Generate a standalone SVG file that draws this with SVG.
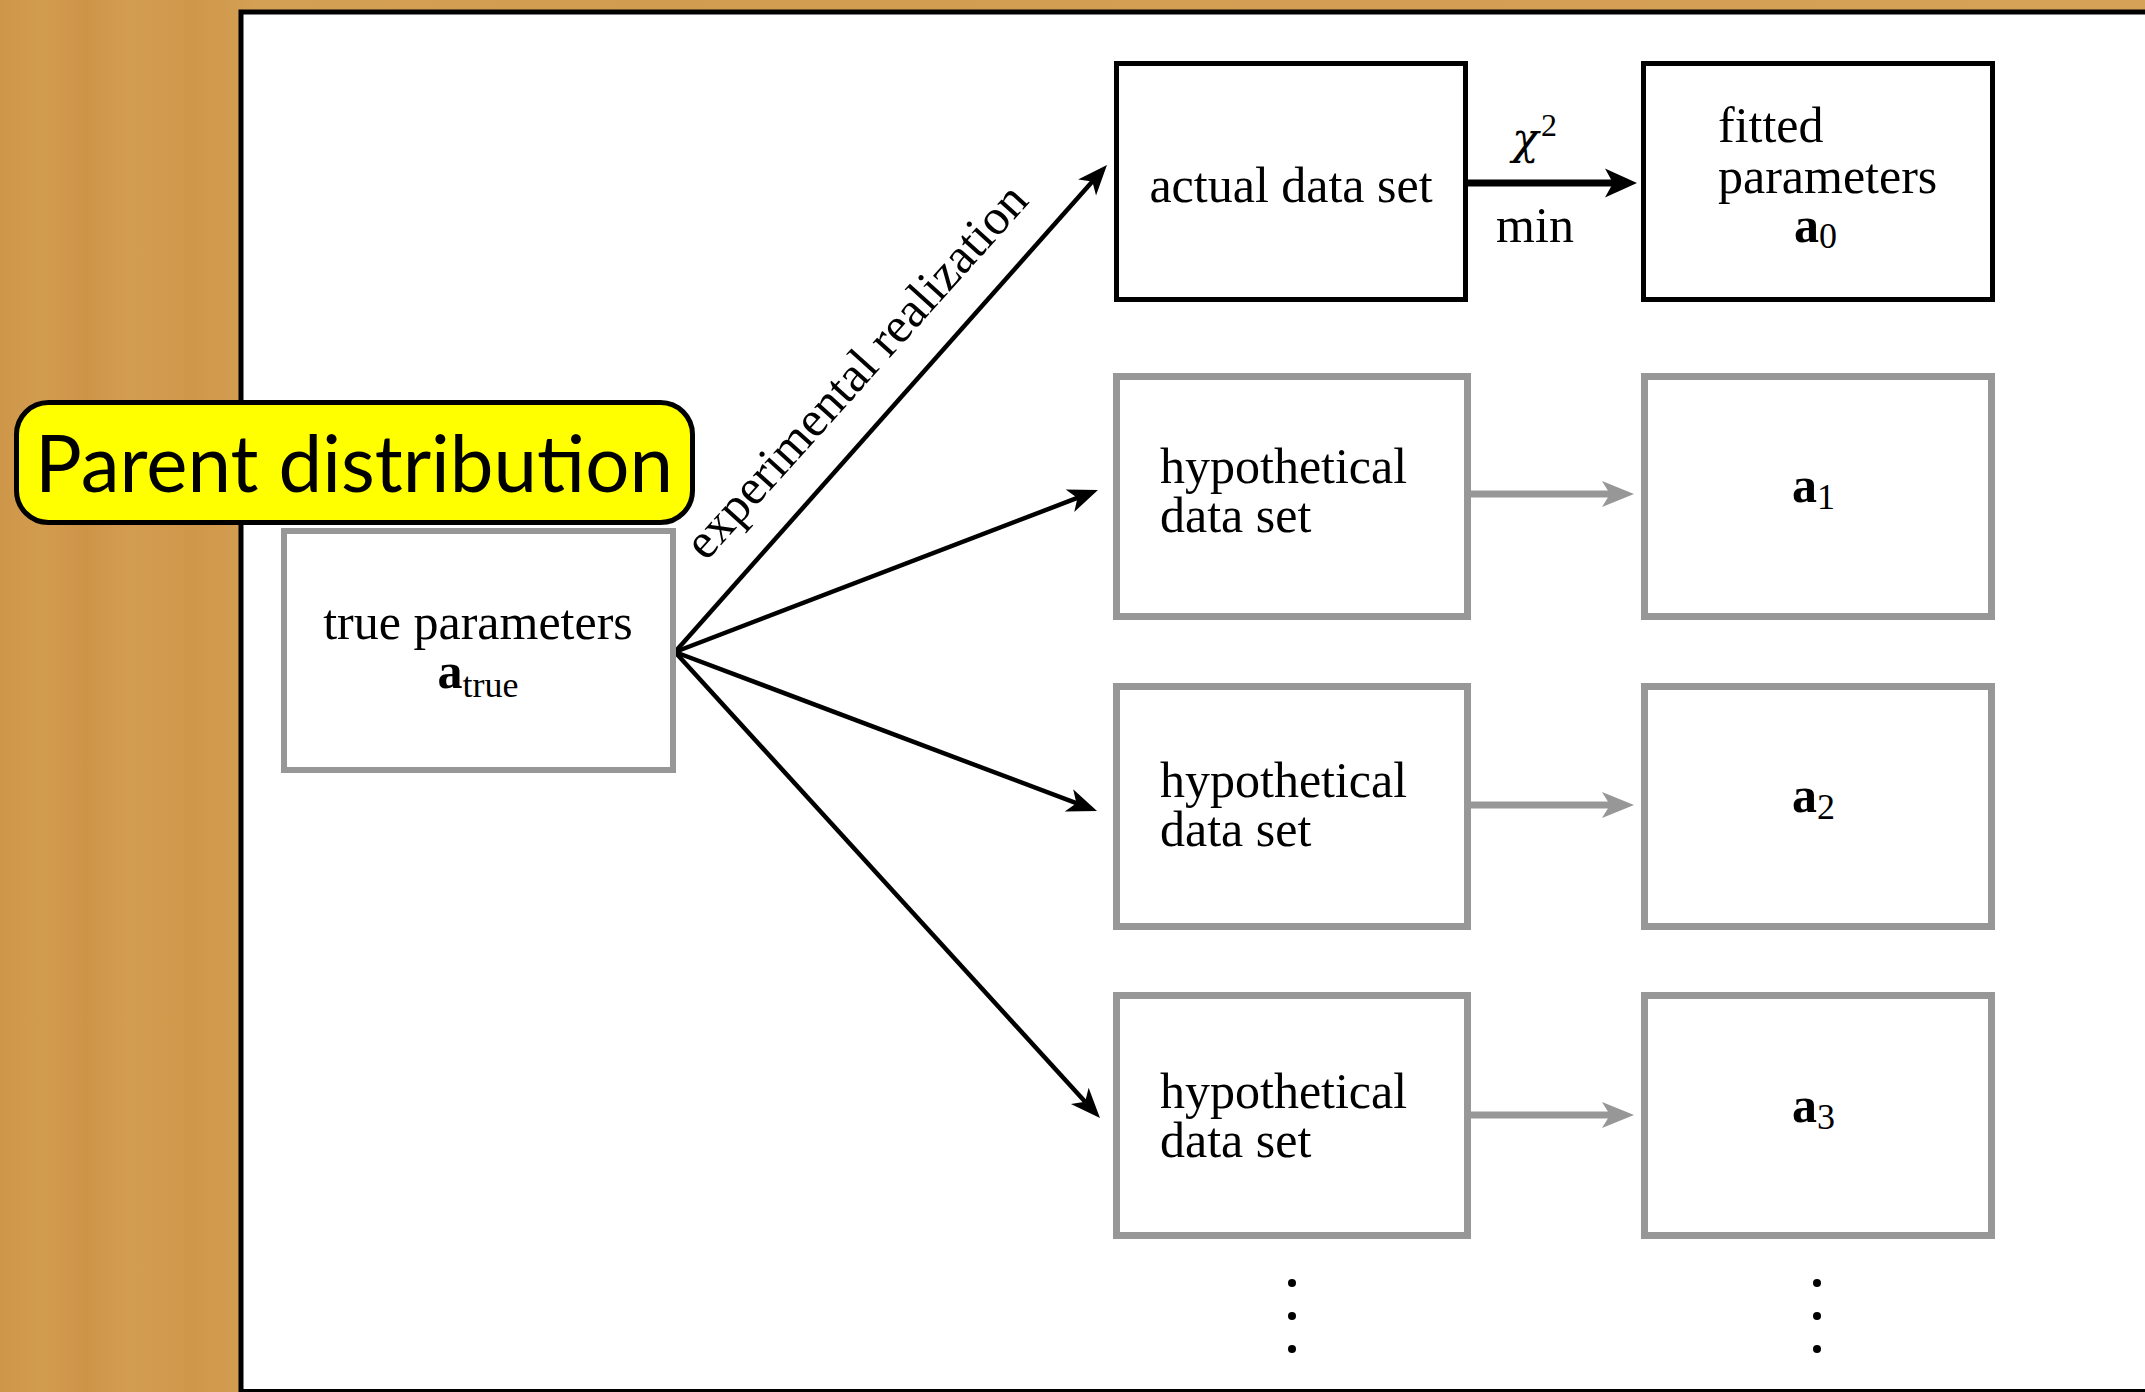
<svg xmlns="http://www.w3.org/2000/svg" width="2145" height="1392" viewBox="0 0 2145 1392">
  <style>
    .t { font-family: "Liberation Serif", "Times New Roman", serif; font-size: 50px; fill: #000; }
    .b { font-weight: bold; }
    .sub { font-size: 36px; font-weight: normal; }
    .sup { font-size: 32px; }
    .chi { font-family: "DejaVu Serif", "Liberation Serif", serif; font-style: italic; font-size: 44px; }
    .box-k { fill: #fff; stroke: #000; stroke-width: 5; }
    .box-g { fill: #fff; stroke: #979797; stroke-width: 7; }
    .fan { stroke: #000; stroke-width: 4.5; fill: none; marker-end: url(#headK); }
    .gar { stroke: #979797; stroke-width: 7; fill: none; marker-end: url(#headG); }
  </style>
  <defs>
    <linearGradient id="wood" x1="0" y1="0" x2="1" y2="0">
      <stop offset="0" stop-color="#CE9649"/>
      <stop offset="0.02" stop-color="#D29C4F"/>
      <stop offset="0.04" stop-color="#CD9448"/>
      <stop offset="0.06" stop-color="#D39D51"/>
      <stop offset="0.09" stop-color="#CF974A"/>
      <stop offset="0.12" stop-color="#D4A054"/>
      <stop offset="0.3" stop-color="#D29C50"/>
      <stop offset="1" stop-color="#D6A257"/>
    </linearGradient>
    <marker id="headK" markerUnits="userSpaceOnUse" orient="auto" markerWidth="60" markerHeight="60" refX="0" refY="0" viewBox="-30 -30 60 60" overflow="visible">
      <path d="M20,0 L-10,-12 L-2,0 L-10,12 Z" fill="#000"/>
    </marker>
    <marker id="headG" markerUnits="userSpaceOnUse" orient="auto" markerWidth="60" markerHeight="60" refX="0" refY="0" viewBox="-30 -30 60 60" overflow="visible">
      <path d="M22,0 L-10,-13 L-2,0 L-10,13 Z" fill="#979797"/>
    </marker>
    <marker id="headKb" markerUnits="userSpaceOnUse" orient="auto" markerWidth="60" markerHeight="60" refX="0" refY="0" viewBox="-30 -30 60 60" overflow="visible">
      <path d="M22,0 L-10,-14.5 L-2,0 L-10,14.5 Z" fill="#000"/>
    </marker>
  </defs>

  <!-- background -->
  <rect x="0" y="0" width="2145" height="1392" fill="url(#wood)"/>
  <rect id="panel" x="241" y="12" width="1910" height="1379.5" fill="#fff" stroke="#000" stroke-width="5"/>

  <!-- connectors -->
  <g id="connectors">
    <line class="fan" x1="675" y1="652" x2="1093.7" y2="180"/>
    <line class="fan" x1="675" y1="652" x2="1079.3" y2="497.2"/>
    <line class="fan" x1="675" y1="652" x2="1078.3" y2="803.9"/>
    <line class="fan" x1="675" y1="652" x2="1086.5" y2="1103.2"/>
    <line x1="1468" y1="183" x2="1615" y2="183" stroke="#000" stroke-width="7" marker-end="url(#headKb)"/>
    <line class="gar" x1="1471" y1="494" x2="1612" y2="494"/>
    <line class="gar" x1="1471" y1="805" x2="1612" y2="805"/>
    <line class="gar" x1="1471" y1="1115" x2="1612" y2="1115"/>
    <text class="t" x="706" y="562" transform="rotate(-48 706 562)">experimental realization</text>
    <text class="t chi" x="1512" y="154">χ</text>
    <text class="t sup" x="1541" y="136">2</text>
    <text class="t" x="1535" y="242" text-anchor="middle">min</text>
  </g>

  <!-- nodes -->
  <g id="true-params">
    <rect x="284" y="531" width="389" height="239" fill="#fff" stroke="#979797" stroke-width="6"/>
    <text class="t" x="478" y="639" text-anchor="middle">true parameters</text>
    <text class="t" x="478" y="688" text-anchor="middle"><tspan class="b">a</tspan><tspan class="sub" dy="9">true</tspan></text>
  </g>

  <g id="actual-data">
    <rect class="box-k" x="1116.5" y="63.5" width="349" height="236"/>
    <text class="t" x="1291" y="202" text-anchor="middle">actual data set</text>
  </g>

  <g id="fitted-params">
    <rect class="box-k" x="1643.5" y="63.5" width="349" height="236"/>
    <text class="t" x="1718" y="142">fitted</text>
    <text class="t" x="1718" y="193">parameters</text>
    <text class="t" x="1794" y="242"><tspan class="b">a</tspan><tspan class="sub" dy="6">0</tspan></text>
  </g>

  <g id="hyp-1">
    <rect class="box-g" x="1116.5" y="376.5" width="351" height="240"/>
    <text class="t" x="1160" y="483">hypothetical</text>
    <text class="t" x="1160" y="532">data set</text>
  </g>
  <g id="a1">
    <rect class="box-g" x="1644.5" y="376.5" width="347" height="240"/>
    <text class="t" x="1792" y="502"><tspan class="b">a</tspan><tspan class="sub" dy="7">1</tspan></text>
  </g>

  <g id="hyp-2">
    <rect class="box-g" x="1116.5" y="686.5" width="351" height="240"/>
    <text class="t" x="1160" y="797">hypothetical</text>
    <text class="t" x="1160" y="846">data set</text>
  </g>
  <g id="a2">
    <rect class="box-g" x="1644.5" y="686.5" width="347" height="240"/>
    <text class="t" x="1792" y="812"><tspan class="b">a</tspan><tspan class="sub" dy="7">2</tspan></text>
  </g>

  <g id="hyp-3">
    <rect class="box-g" x="1116.5" y="995.5" width="351" height="240"/>
    <text class="t" x="1160" y="1108">hypothetical</text>
    <text class="t" x="1160" y="1157">data set</text>
  </g>
  <g id="a3">
    <rect class="box-g" x="1644.5" y="995.5" width="347" height="240"/>
    <text class="t" x="1792" y="1122"><tspan class="b">a</tspan><tspan class="sub" dy="7">3</tspan></text>
  </g>

  <g id="dots" fill="#000">
    <circle cx="1292" cy="1283" r="4"/>
    <circle cx="1292" cy="1316" r="4"/>
    <circle cx="1292" cy="1349" r="4"/>
    <circle cx="1817" cy="1283" r="4"/>
    <circle cx="1817" cy="1316" r="4"/>
    <circle cx="1817" cy="1349" r="4"/>
  </g>

  <g id="parent-label">
    <rect x="16.5" y="402.5" width="676" height="120" rx="32" ry="32" fill="#FFFF00" stroke="#000" stroke-width="5"/>
    <text x="35" y="492" font-family="Lato, 'Open Sans', sans-serif" font-size="80" textLength="638" lengthAdjust="spacingAndGlyphs" fill="#000">Parent distribution</text>
  </g>
</svg>
